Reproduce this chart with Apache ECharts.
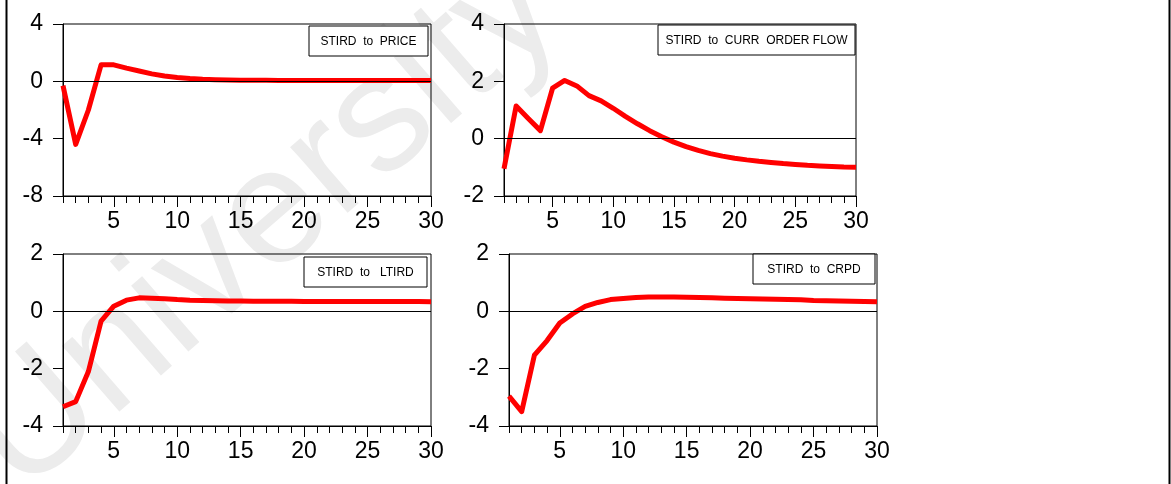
<!DOCTYPE html>
<html>
<head>
<meta charset="utf-8">
<script src="https://cdn.jsdelivr.net/npm/echarts@6/dist/echarts.min.js"></script>
<style>
html,body{margin:0;padding:0;background:#fff;}
#c{width:1171px;height:484px;}
</style>
</head>
<body>
<div id="c"></div>
<script>
const periods = ['1','2','3','4','5','6','7','8','9','10','11','12','13','14','15','16','17','18','19','20','21','22','23','24','25','26','27','28','29','30'];
const price = [-0.3, -4.4, -2.0, 1.15, 1.15, 0.92, 0.72, 0.52, 0.37, 0.27, 0.19, 0.14, 0.11, 0.09, 0.08, 0.07, 0.07, 0.06, 0.06, 0.06, 0.06, 0.06, 0.06, 0.06, 0.06, 0.06, 0.06, 0.06, 0.06, 0.06];
const currOrderFlow = [-1.05, 1.14, 0.7, 0.28, 1.76, 2.03, 1.84, 1.5, 1.32, 1.06, 0.78, 0.52, 0.28, 0.07, -0.12, -0.28, -0.41, -0.52, -0.61, -0.68, -0.74, -0.79, -0.83, -0.87, -0.9, -0.93, -0.95, -0.97, -0.99, -1.0];
const ltird = [-3.33, -3.15, -2.1, -0.34, 0.18, 0.39, 0.47, 0.46, 0.44, 0.41, 0.39, 0.38, 0.37, 0.36, 0.36, 0.35, 0.35, 0.35, 0.35, 0.34, 0.34, 0.34, 0.34, 0.34, 0.34, 0.34, 0.34, 0.34, 0.34, 0.33];
const crpd = [-2.96, -3.5, -1.53, -1.02, -0.41, -0.09, 0.17, 0.31, 0.41, 0.45, 0.48, 0.5, 0.5, 0.5, 0.49, 0.48, 0.47, 0.46, 0.45, 0.44, 0.43, 0.42, 0.41, 0.4, 0.38, 0.37, 0.36, 0.35, 0.34, 0.33];
const panelTitles = ['STIRD  to  PRICE', 'STIRD  to  CURR  ORDER FLOW', 'STIRD  to   LTIRD', 'STIRD  to  CRPD'];
const yMins = [-8, -2, -4, -4];
const yMaxs = [4, 4, 2, 2];
const yIntervals = [4, 2, 2, 2];
const watermarkText = 'University';

const seriesData = [price, currOrderFlow, ltird, crpd];
const FONT = '"Liberation Sans", Arial, sans-serif';

const grids = [
  {left: 63, top: 24, width: 368, height: 172},
  {left: 504, top: 24, width: 352, height: 172},
  {left: 63, top: 254, width: 368, height: 172},
  {left: 509, top: 254, width: 368, height: 172}
];
const boxes = [
  {x: 309, y: 26, w: 119, h: 30},
  {x: 658, y: 25, w: 197, h: 30},
  {x: 304, y: 257, w: 123, h: 30},
  {x: 753, y: 254, w: 122, h: 30}
];

const xAxes = [], yAxes = [], series = [], graphics = [];
grids.forEach((g, i) => {
  g.show = true; g.borderColor = '#000'; g.borderWidth = 1; g.backgroundColor = 'transparent'; g.containLabel = false;
  xAxes.push({
    type: 'category', gridIndex: i, data: periods, boundaryGap: false,
    axisLine: {show: true, onZero: false, lineStyle: {color: '#000', width: 1}},
    axisTick: {show: true, interval: 0, length: 7, lineStyle: {color: '#000'}},
    axisLabel: {
      interval: function (idx) { return (idx + 1) % 5 === 0; },
      color: '#000', fontSize: 23, fontFamily: FONT, margin: 14
    },
    splitLine: {show: false}
  });
  xAxes.push({
    type: 'category', gridIndex: i, data: periods, boundaryGap: false, position: 'bottom',
    axisLine: {show: false, onZero: false},
    axisTick: {show: true, interval: function (idx) { return (idx + 1) % 5 === 0; }, length: 11, lineStyle: {color: '#000'}},
    axisLabel: {show: false},
    splitLine: {show: false}
  });
  yAxes.push({
    type: 'value', gridIndex: i, min: yMins[i], max: yMaxs[i], interval: yIntervals[i],
    axisLine: {show: true, lineStyle: {color: '#000'}},
    axisTick: {show: true, length: 10, lineStyle: {color: '#000'}},
    axisLabel: {color: '#000', fontSize: 23, fontFamily: FONT, margin: 20},
    splitLine: {show: false}
  });
  series.push({
    type: 'line', xAxisIndex: i * 2, yAxisIndex: i, data: seriesData[i],
    showSymbol: false, symbol: 'none', smooth: false, z: 3,
    lineStyle: {color: '#ff0000', width: 5, join: 'round', cap: 'butt'},
    markLine: {
      silent: true, symbol: 'none', label: {show: false},
      lineStyle: {color: '#000', width: 1, type: 'solid'},
      data: [{yAxis: 0}], animation: false
    }
  });
  const b = boxes[i];
  graphics.push({
    type: 'rect', shape: {x: b.x, y: b.y, width: b.w, height: b.h}, z: 10,
    style: {fill: '#fff', stroke: '#000', lineWidth: 1}
  });
  graphics.push({
    type: 'text', x: b.x + b.w / 2, y: b.y + b.h / 2 + 1, z: 11,
    style: {text: panelTitles[i], fill: '#000', font: '12px ' + FONT, textAlign: 'center', textVerticalAlign: 'middle'}
  });
});

graphics.push({type: 'line', shape: {x1: 6.5, y1: 0, x2: 6.5, y2: 484}, style: {stroke: '#000', lineWidth: 2}, z: 10});
graphics.push({type: 'line', shape: {x1: 1169.5, y1: 0, x2: 1169.5, y2: 484}, style: {stroke: '#000', lineWidth: 2}, z: 10});
graphics.push({
  type: 'text', x: 45, y: 525, rotation: 41 * Math.PI / 180, z: -1,
  style: {text: watermarkText, fill: '#ececec', font: '165px ' + FONT, textAlign: 'left', textVerticalAlign: 'bottom'}
});

const chart = echarts.init(document.getElementById('c'), null, {renderer: 'canvas'});
chart.setOption({
  animation: false,
  backgroundColor: '#fff',
  grid: grids,
  xAxis: xAxes,
  yAxis: yAxes,
  series: series,
  graphic: graphics
});
</script>
</body>
</html>
